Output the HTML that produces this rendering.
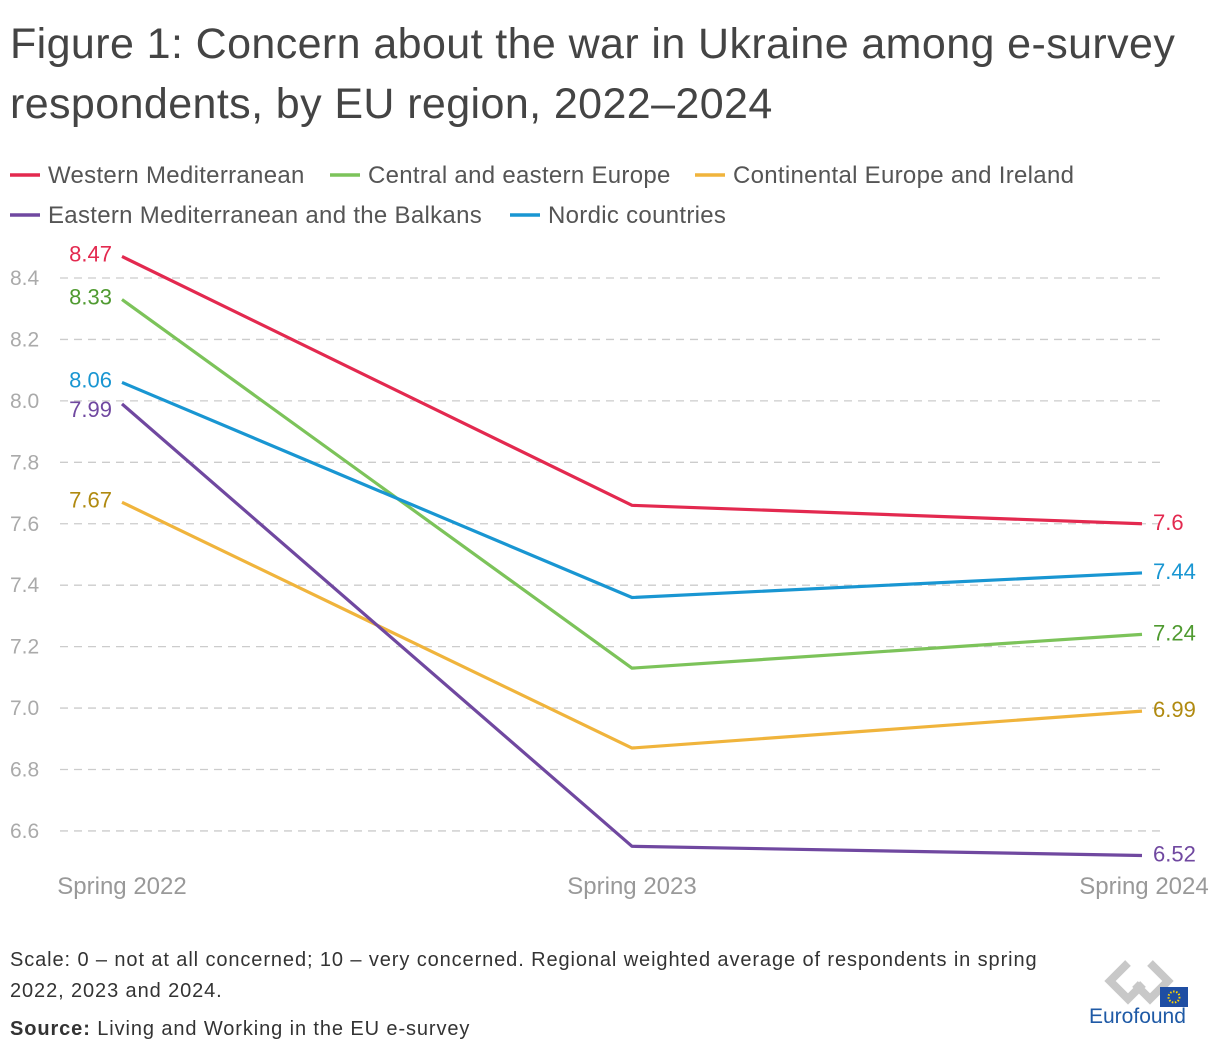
<!DOCTYPE html>
<html><head><meta charset="utf-8"><style>
body{margin:0;background:#fff;font-family:"Liberation Sans",sans-serif;}
#wrap{position:relative;width:1220px;height:1056px;overflow:hidden;}
.t{position:absolute;white-space:nowrap;}
</style></head><body>
<div id="wrap">
<div class="t" style="left:10px;top:14px;font-size:43px;color:#444;line-height:60px;letter-spacing:0.4px;">Figure 1: Concern about the war in Ukraine among e-survey<br>respondents, by EU region, 2022–2024</div>
<svg id="chart" width="1220" height="1056" style="position:absolute;left:0;top:0"></svg>
<div class="t" style="left:10px;top:945px;font-size:20px;color:#333;line-height:31px;letter-spacing:0.9px;">Scale: 0 – not at all concerned; 10 – very concerned. Regional weighted average of respondents in spring<br>2022, 2023 and 2024.</div>
<div class="t" style="left:10px;top:1018px;font-size:20px;color:#333;letter-spacing:0.9px;"><b>Source:</b> Living and Working in the EU e-survey</div>
<div style="position:absolute;left:1088px;top:955px;width:110px;height:75px;">
<svg width="110" height="75"><g fill="none" stroke="#c8c8c8" stroke-width="8"><path d="M40 8 L22 26 L40 44 L55 29"/><path d="M62 8 L80 26 L62 44 L47 29"/></g>
<rect x="72" y="32" width="28" height="20" fill="#1f4ea3"/><circle cx="86" cy="42" r="5.5" fill="none" stroke="#ffd500" stroke-width="2" stroke-dasharray="1.5 1.6"/>
<text x="1" y="68" font-size="21" fill="#1f5aa6" font-family="Liberation Sans">Eurofound</text></svg></div>
</div>
<script>
const periods=["Spring 2022","Spring 2023","Spring 2024"];
const seriesNames=["Western Mediterranean","Central and eastern Europe","Continental Europe and Ireland","Eastern Mediterranean and the Balkans","Nordic countries"];
const colors=["#e3294f","#7cc35a","#f0b43c","#7048a0","#1996d2"];
const labelColors=["#e3294f","#4f9a30","#b08a10","#7048a0","#1996d2"];
const westernMed=[8.47,7.66,7.60];
const centralEastern=[8.33,7.13,7.24];
const continental=[7.67,6.87,6.99];
const easternMed=[7.99,6.55,6.52];
const nordic=[8.06,7.36,7.44];
const yTicks=[6.6,6.8,7.0,7.2,7.4,7.6,7.8,8.0,8.2,8.4];
const allSeries=[westernMed,centralEastern,continental,easternMed,nordic];
const NS="http://www.w3.org/2000/svg";
const svg=document.getElementById('chart');
const y=v=>278+(8.4-v)*307.2;
const x=i=>122+i*510;
function el(t,a){const e=document.createElementNS(NS,t);for(const k in a)e.setAttribute(k,a[k]);svg.appendChild(e);return e;}
yTicks.forEach(v=>{
 const g=el('line',{x1:60,x2:1165,y1:y(v),y2:y(v),stroke:'#ccc','stroke-width':1.3,'stroke-dasharray':'8 6'});
 
 
 const t=el('text',{x:10,y:y(v)+7,'font-size':21,fill:'#aaa'});t.textContent=v.toFixed(1);
 
 
});
periods.forEach((p,i)=>{
 const t=el('text',{x:x(i)+(i==2?2:0),y:894,'font-size':24,fill:'#999','text-anchor':'middle'});t.textContent=p;
 
 
});
const legPos=[[10,175],[330,175],[695,175],[10,215],[510,215]];
seriesNames.forEach((n,i)=>{
 const [lx,ly]=legPos[i];
 const l=el('line',{x1:lx,x2:lx+30,y1:ly,y2:ly,stroke:colors[i],'stroke-width':3.5});
 
 
 const t=el('text',{x:lx+38,y:ly+8,'font-size':24,fill:'#555','letter-spacing':0.3});t.textContent=n;
 
 
});
allSeries.forEach((s,si)=>{
 const p=el('polyline',{points:s.map((v,i)=>x(i)+','+y(v)).join(' '),fill:'none',stroke:colors[si],'stroke-width':3.2,'stroke-linejoin':'round'});
 
 
 const a=el('text',{x:112,y:y(s[0])+5+(si==3?8:0),'font-size':22,fill:labelColors[si],'text-anchor':'end'});a.textContent=String(s[0]);
 
 
 const b=el('text',{x:1153,y:y(s[2])+6,'font-size':22,fill:labelColors[si]});b.textContent=String(s[2]);
 
 
});
</script>
</body></html>
